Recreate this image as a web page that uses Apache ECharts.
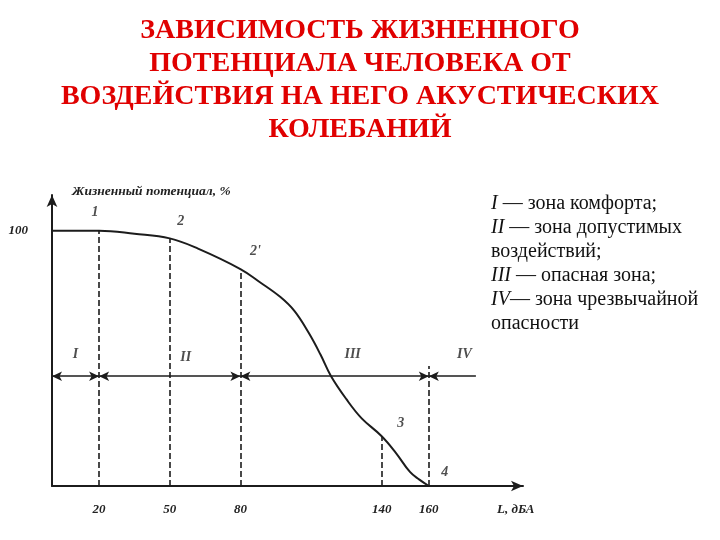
<!DOCTYPE html>
<html><head><meta charset="utf-8">
<script src="https://cdn.jsdelivr.net/npm/echarts@6/dist/echarts.min.js"></script>
<style>html,body{margin:0;padding:0;background:#fff}#c{width:720px;height:540px}</style>
</head><body><div id="c"></div>
<script>
// ---- data ----
const titleLines = ['ЗАВИСИМОСТЬ ЖИЗНЕННОГО', 'ПОТЕНЦИАЛА ЧЕЛОВЕКА ОТ', 'ВОЗДЕЙСТВИЯ НА НЕГО АКУСТИЧЕСКИХ', 'КОЛЕБАНИЙ'];
const yAxisName = 'Жизненный потенциал, %';
const xAxisName = 'L, дБА';
const curveDb  = [0, 20, 35, 50, 62, 80, 88, 97, 103, 109, 114, 118.5, 125, 131.5, 140, 146, 152, 156, 160];
const curvePct = [100, 100, 98.8, 97, 93, 85, 80, 74, 68.5, 60, 51.5, 43, 34, 26.5, 19.5, 13, 5.5, 2.5, 0];
const pointDb = [20, 50, 80, 140, 160];
const pointPct = [100, 97, 85, 19.5, 0];
const pointNames = ['1', '2', "2'", '3', '4'];
const xTickLabels = [20, 50, 80, 140, 160];
const yTickLabels = [100];
const zoneBounds = [0, 20, 80, 160, 180];
const zoneNames = ['I', 'II', 'III', 'IV'];
const zoneLevel = 43;
const zoneIVBoundaryTop = 47;
const legendNumerals = ['I', 'II', 'III', 'IV'];
const legendSeps = [' ', ' ', ' ', ''];
const legendTexts = ['— зона комфорта;', '— зона допустимых\nвоздействий;', '— опасная зона;', '— зона чрезвычайной\nопасности'];

// ---- styles ----
const ink = '#1c1c1c';
const annoFont = { fontFamily: 'Liberation Serif', fontStyle: 'italic', fontWeight: 'bold', color: '#222' };
const pointLabelPos = [[-4, -18], [11, -17], [15, -18], [19, -13], [16, -14]];
const zoneLabelPos = [[0, -22], [16, -19], [18, -22], [12, -22]];

const chart = echarts.init(document.getElementById('c'), null, { renderer: 'canvas' });

const dashedLines = pointDb.slice(0, 4).map((x, i) => [{ coord: [x, 0] }, { coord: [x, pointPct[i]] }]);
dashedLines.push([{ coord: [zoneBounds[3], 0] }, { coord: [zoneBounds[3], zoneIVBoundaryTop] }]);

const zoneArrows = [];
for (let i = 0; i < 3; i++) {
  zoneArrows.push([{ coord: [zoneBounds[i], zoneLevel] }, { coord: [zoneBounds[i + 1], zoneLevel] }]);
}
zoneArrows.push([{ coord: [zoneBounds[3], zoneLevel], symbol: 'arrow' }, { coord: [zoneBounds[4], zoneLevel], symbol: 'none' }]);

const legendRich = legendNumerals.map((n, i) => '{i|' + n + '}' + legendSeps[i] + legendTexts[i]).join('\n');

chart.setOption({
  animation: false,
  title: [
    {
      text: titleLines.join('\n'),
      left: 'center', top: 14, padding: 0,
      textStyle: { fontFamily: 'Liberation Serif', fontWeight: 'bold', fontSize: 28, lineHeight: 33, color: '#e00000' }
    },
    {
      text: legendRich,
      left: 491, top: 192, padding: 0,
      textStyle: {
        fontFamily: 'Liberation Serif', fontWeight: 'normal', fontSize: 20, lineHeight: 24, color: '#111',
        rich: { i: { fontFamily: 'Liberation Serif', fontStyle: 'italic', fontSize: 20, lineHeight: 24, color: '#111' } }
      }
    }
  ],
  grid: { left: 52, right: 197, top: 195, bottom: 54, containLabel: false },
  xAxis: {
    type: 'value', min: 0, max: 200,
    name: xAxisName, nameLocation: 'end', nameGap: -26,
    nameTextStyle: Object.assign({ fontSize: 13, align: 'left', verticalAlign: 'top', lineHeight: 16, padding: [16, 0, 0, 0] }, annoFont),
    axisLine: { show: true, onZero: false, symbol: ['none', 'arrow'], symbolSize: [8, 12], lineStyle: { color: ink, width: 2 } },
    axisTick: { show: false },
    splitLine: { show: false },
    axisLabel: Object.assign({ customValues: xTickLabels, fontSize: 13, margin: 17 }, annoFont)
  },
  yAxis: {
    type: 'value', min: 0, max: 114,
    name: yAxisName, nameLocation: 'end', nameGap: 3,
    nameTextStyle: Object.assign({ fontSize: 13.5, align: 'left', verticalAlign: 'middle', padding: [0, 0, 0, 20] }, annoFont),
    axisLine: { show: true, onZero: false, symbol: ['none', 'arrow'], symbolSize: [8, 12], lineStyle: { color: ink, width: 2 } },
    axisTick: { show: false },
    splitLine: { show: false },
    axisLabel: Object.assign({ customValues: yTickLabels, fontSize: 13, margin: 24 }, annoFont)
  },
  series: [
    {
      type: 'line',
      data: curveDb.map((x, i) => [x, curvePct[i]]),
      showSymbol: false, smooth: 0.4,
      lineStyle: { color: ink, width: 2 },
      markLine: {
        silent: true, symbol: 'none', label: { show: false },
        lineStyle: { color: ink, width: 1.6, type: [6, 3] },
        data: dashedLines
      },
      z: 3
    },
    {
      type: 'scatter',
      data: pointDb.map((x, i) => ({
        value: [x, pointPct[i]], name: pointNames[i],
        label: { position: pointLabelPos[i] }
      })),
      symbolSize: 0,
      label: Object.assign({ show: true, formatter: p => p.name, fontSize: 14, align: 'center', verticalAlign: 'middle' }, annoFont),
      z: 4
    },
    {
      type: 'scatter',
      data: zoneNames.map((n, i) => ({
        value: [(zoneBounds[i] + zoneBounds[i + 1]) / 2, zoneLevel], name: n,
        label: { position: zoneLabelPos[i] }
      })),
      symbolSize: 0,
      label: Object.assign({ show: true, formatter: p => p.name, fontSize: 14, align: 'center', verticalAlign: 'middle' }, annoFont),
      markLine: {
        silent: true, symbol: ['arrow', 'arrow'], symbolSize: [7, 10], label: { show: false },
        lineStyle: { color: ink, width: 1.6, type: 'solid' },
        data: zoneArrows
      },
      z: 4
    }
  ]
});
</script>
</body></html>
